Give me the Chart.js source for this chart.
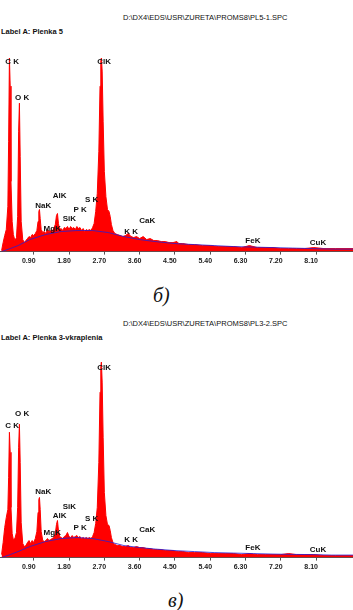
<!DOCTYPE html>
<html>
<head>
<meta charset="utf-8">
<script src="https://cdn.jsdelivr.net/npm/chart.js@4.4.1/dist/chart.umd.min.js"></script>
<style>
  body { margin: 0; background: #fff; width: 353px; height: 610px; position: relative; overflow: hidden; }
  .path { position: absolute; font: 7.5px "Liberation Sans", Arial, sans-serif; color: #111; white-space: nowrap; }
  .lbl { position: absolute; font: bold 7.5px "Liberation Sans", Arial, sans-serif; color: #111; white-space: nowrap; }
  .cap { position: absolute; font: italic 20px "Liberation Serif", "Times New Roman", serif; color: #111; }
  canvas { position: absolute; left: 0; }
</style>
</head>
<body>
<div class="path" style="left:123px; top:13px;">D:\DX4\EDS\USR\ZURETA\PROMS8\PL5-1.SPC</div>
<div class="lbl" style="left:1px; top:27px;">Label A: Plenka 5</div>
<canvas id="specTop" width="353" height="227" style="top:40px;"></canvas>
<div class="cap" style="left:153px; top:284px;">б)</div>

<div class="path" style="left:123px; top:319px;">D:\DX4\EDS\USR\ZURETA\PROMS8\PL3-2.SPC</div>
<div class="lbl" style="left:1px; top:333px;">Label A: Plenka 3-vkraplenia</div>
<canvas id="specBottom" width="353" height="227" style="top:346px;"></canvas>
<div class="cap" style="left:168px; top:589px;">в)</div>

<script>
// energy channels (keV), shared by both spectra
const energyKeV = [
  0.08, 0.12, 0.16, 0.2, 0.24, 0.26, 0.28, 0.3, 0.32, 0.35,
  0.38, 0.42, 0.46, 0.49, 0.515, 0.535, 0.555, 0.58, 0.62, 0.66,
  0.7, 0.74, 0.78, 0.82, 0.86, 0.9, 0.94, 0.98, 1.01, 1.03,
  1.046, 1.065, 1.09, 1.13, 1.17, 1.21, 1.25, 1.29, 1.33, 1.37,
  1.41, 1.45, 1.48, 1.505, 1.53, 1.56, 1.6, 1.64, 1.68, 1.72,
  1.76, 1.8, 1.84, 1.88, 1.92, 1.96, 2.0, 2.04, 2.08, 2.12,
  2.16, 2.2, 2.24, 2.28, 2.32, 2.36, 2.4, 2.44, 2.48, 2.52,
  2.56, 2.59, 2.61, 2.625, 2.645, 2.67, 2.7, 2.74, 2.78, 2.82,
  2.85, 2.88, 2.92, 2.97, 3.03, 3.1, 3.17, 3.24, 3.31, 3.38,
  3.45, 3.52, 3.6, 3.69, 3.78, 3.87, 3.96, 4.05, 4.15, 4.25,
  4.35, 4.45, 4.55, 4.6, 4.7, 4.85, 5.0, 5.2, 5.4, 5.6,
  5.8, 6.0, 6.2, 6.4, 6.6, 6.8, 7.0, 7.2, 7.4, 7.6,
  7.8, 8.04, 8.3, 8.6, 9.04
];

// PL5-1 (Plenka 5)
const countsTop = [
  1, 9, 16, 22, 45, 110, 193, 165, 70, 30,
  17, 11, 14, 35, 120, 148, 95, 30, 12, 9,
  11, 13, 15, 14, 17, 16, 18, 21, 30, 40,
  42, 33, 22, 19, 20, 18, 22, 20, 21, 20,
  23, 27, 36, 38, 28, 22, 23, 21, 24, 23,
  25, 22, 25, 23, 24, 22, 25, 23, 24, 21,
  23, 20, 22, 21, 22, 21, 24, 28, 40, 58,
  100, 165, 190, 193, 180, 130, 80, 55, 42, 40,
  35, 27, 21, 18, 17, 16, 15, 16, 18, 15,
  14, 15, 13, 15, 12, 13, 11, 11, 10, 10,
  9, 9, 10, 8, 8, 7, 7, 6, 6, 5,
  5, 5, 4, 6, 4, 4, 4, 3, 3, 3,
  3, 4, 3, 3, 3
];

// PL3-2 (Plenka 3-vkraplenia)
const countsBottom = [
  3, 15, 30, 40, 48, 80, 125, 105, 50, 24,
  18, 19, 25, 50, 110, 133, 95, 35, 14, 11,
  12, 15, 17, 14, 17, 15, 19, 26, 45, 58,
  60, 48, 26, 17, 16, 17, 19, 17, 18, 19,
  20, 24, 33, 37, 27, 21, 20, 19, 21, 22,
  25, 21, 20, 22, 20, 21, 22, 20, 21, 19,
  20, 19, 20, 19, 20, 19, 21, 25, 34, 50,
  95, 165, 190, 195, 175, 120, 65, 42, 33, 32,
  27, 20, 15, 13, 12, 12, 11, 11, 12, 10,
  10, 11, 10, 10, 9, 9, 8, 8, 8, 7,
  7, 7, 6, 6, 6, 5, 5, 5, 4, 4,
  4, 4, 3, 4, 3, 3, 3, 3, 4, 3,
  3, 3, 2, 2, 2
];

// background fit (blue line)
const bgEnergy = [0.08, 0.3, 0.5, 0.8, 1.2, 1.6, 2.0, 2.4, 2.8, 3.2, 3.6, 4.0, 4.5, 5.0, 5.5, 6.0, 6.5, 7.0, 7.5, 8.0, 8.5, 9.04];
const bgTop    = [0, 3, 6, 12, 17, 20, 21, 21, 19, 15, 12, 10, 8, 7, 6, 5, 4.5, 4, 3.5, 3, 2.5, 2.5];
const bgBottom = [0, 3, 6, 11, 16, 19, 20, 19, 16, 12, 10, 8.5, 7, 6, 5, 4.5, 4, 3.5, 3.2, 3, 2.5, 2.5];

// element lines
const lineNames = ["C K", "O K", "NaK", "MgK", "AlK", "SiK", "P K", "S K", "ClK", "K K", "CaK", "FeK", "CuK"];
const lineKeV   = [0.277, 0.525, 1.041, 1.253, 1.486, 1.739, 2.013, 2.307, 2.621, 3.312, 3.690, 6.398, 8.040];
const labelTop    = [189, 153, 46, 23, 56, 33, 42, 52, 189, 20, 31, 11, 9];
const labelBottom = [131, 143, 66, 25, 42, 51, 30, 39, 189, 18, 28, 10, 8];

const tickKeV = [0.9, 1.8, 2.7, 3.6, 4.5, 5.4, 6.3, 7.2, 8.1];

const X_MIN = 0.04, X_MAX = 9.04, Y_MAX = 211;

function toPoints(xs, ys) {
  return xs.map((x, i) => ({ x: x, y: ys[i] }));
}

function lineLabels(labelY) {
  return {
    id: "lineLabels",
    afterDatasetsDraw(chart) {
      const ctx = chart.ctx;
      const xs = chart.scales.x, ys = chart.scales.y;
      ctx.save();
      ctx.font = "bold 8px 'Liberation Sans', Arial, sans-serif";
      ctx.fillStyle = "#111";
      ctx.textAlign = "left";
      ctx.textBaseline = "middle";
      lineNames.forEach((name, i) => {
        ctx.fillText(name, xs.getPixelForValue(lineKeV[i]) - 4, ys.getPixelForValue(labelY[i]));
      });
      ctx.restore();
    }
  };
}

function makeSpectrum(id, counts, bg, labelY) {
  const ctx = document.getElementById(id).getContext("2d");
  new Chart(ctx, {
    type: "line",
    data: {
      datasets: [
        {
          label: "background",
          data: toPoints(bgEnergy, bg),
          borderColor: "rgba(40,30,210,0.8)",
          borderWidth: 1,
          pointRadius: 0,
          fill: false,
          tension: 0
        },
        {
          label: "spectrum",
          data: toPoints(energyKeV, counts),
          borderColor: "#ff0000",
          backgroundColor: "#ff0000",
          borderWidth: 1,
          pointRadius: 0,
          fill: "origin",
          tension: 0
        }
      ]
    },
    options: {
      responsive: false,
      animation: false,
      layout: { padding: 0 },
      scales: {
        x: {
          type: "linear",
          min: X_MIN,
          max: X_MAX,
          afterBuildTicks: (scale) => { scale.ticks = tickKeV.map(v => ({ value: v })); },
          ticks: {
            callback: (v) => Number(v).toFixed(2),
            font: { family: "'Liberation Sans', Arial, sans-serif", size: 7, weight: "bold" },
            color: "#222",
            padding: 2,
            labelOffset: -5,
            maxRotation: 0,
            autoSkip: false
          },
          grid: { drawOnChartArea: false, drawTicks: true, tickLength: 3, color: "#555" },
          border: { display: true, color: "#555", width: 1 }
        },
        y: { display: false, min: 0, max: Y_MAX }
      },
      plugins: {
        legend: { display: false },
        tooltip: { enabled: false }
      }
    },
    plugins: [lineLabels(labelY)]
  });
}

makeSpectrum("specTop", countsTop, bgTop, labelTop);
makeSpectrum("specBottom", countsBottom, bgBottom, labelBottom);
</script>
</body>
</html>
